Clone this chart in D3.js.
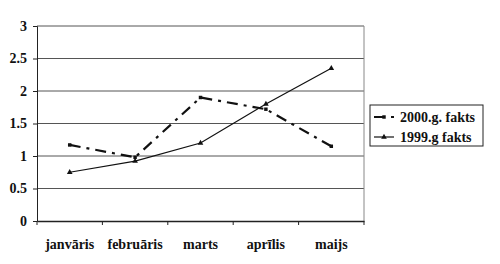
<!DOCTYPE html>
<html>
<head>
<meta charset="utf-8">
<script src="https://cdn.jsdelivr.net/npm/d3@7"></script>
<style>
  html, body { margin: 0; padding: 0; background: #fff; overflow: hidden; }
  svg { display: block; }
  svg text { font-family: "Liberation Serif", "Times New Roman", "DejaVu Serif", serif; font-weight: 700; fill: #111; }
</style>
</head>
<body>
<div id="chart"></div>
<script>
"use strict";

const months = ["janvāris", "februāris", "marts", "aprīlis", "maijs"];
const values2000 = [1.17, 0.98, 1.9, 1.72, 1.15];
const values1999 = [0.75, 0.92, 1.2, 1.8, 2.35];
const yTicks = [0, 0.5, 1, 1.5, 2, 2.5, 3];
const seriesNames = ["2000.g. fakts", "1999.g fakts"];

const width = 500;
const height = 264;
const margin = { top: 26, right: 136, bottom: 43, left: 37 };
const innerWidth = width - margin.left - margin.right;
const innerHeight = height - margin.top - margin.bottom;
const dashPattern = "11,6,3,6";

const svg = d3.select("#chart")
  .append("svg")
  .attr("width", width)
  .attr("height", height);

const g = svg.append("g").attr("transform", `translate(${margin.left},${margin.top})`);

const x = d3.scaleBand().domain(months).range([0, innerWidth]);
const y = d3.scaleLinear().domain([0, 3]).range([innerHeight, 0]);
const cx = (m) => x(m) + x.bandwidth() / 2;

// horizontal grid
g.selectAll("line.grid")
  .data(yTicks.filter((v) => v > 0))
  .join("line")
  .attr("x1", 0)
  .attr("x2", innerWidth)
  .attr("y1", (v) => y(v))
  .attr("y2", (v) => y(v))
  .attr("stroke", "#555")
  .attr("stroke-width", 1);

g.append("line")
  .attr("x1", innerWidth).attr("x2", innerWidth)
  .attr("y1", 0).attr("y2", innerHeight)
  .attr("stroke", "#888");

g.append("g")
  .call(d3.axisLeft(y).tickValues(yTicks).tickSize(4).tickPadding(6).tickFormat((v) => String(v)))
  .call((axis) => axis.attr("font-family", null).attr("font-size", null))
  .call((axis) => axis.selectAll("text").style("font-size", "14px"))
  .call((axis) => axis.selectAll("line").attr("stroke", "#222"))
  .call((axis) => axis.select(".domain").attr("stroke", "#222"));

g.append("g")
  .attr("transform", `translate(0,${innerHeight})`)
  .call(d3.axisBottom(x).tickSize(0).tickPadding(18))
  .call((axis) => axis.attr("font-family", null).attr("font-size", null))
  .call((axis) => axis.selectAll("text").style("font-size", "14px"))
  .call((axis) => axis.select(".domain").attr("stroke", "#222").attr("stroke-width", 1.5));

// category separators
g.selectAll("line.sep")
  .data(d3.range(months.length + 1))
  .join("line")
  .attr("x1", (i) => i * x.bandwidth())
  .attr("x2", (i) => i * x.bandwidth())
  .attr("y1", innerHeight)
  .attr("y2", innerHeight + 4)
  .attr("stroke", "#222");

const line = d3.line()
  .x((d, i) => cx(months[i]))
  .y((d) => y(d));

g.append("path")
  .datum(values1999)
  .attr("fill", "none")
  .attr("stroke", "#111")
  .attr("stroke-width", 1.2)
  .attr("d", line);

g.append("path")
  .datum(values2000)
  .attr("fill", "none")
  .attr("stroke", "#111")
  .attr("stroke-width", 2.2)
  .attr("stroke-dasharray", dashPattern)
  .attr("d", line);

const tri = d3.symbol().type(d3.symbolTriangle).size(14);
const sq = d3.symbol().type(d3.symbolSquare).size(12);

g.selectAll("path.p1999")
  .data(values1999)
  .join("path")
  .attr("transform", (d, i) => `translate(${cx(months[i])},${y(d)})`)
  .attr("d", tri)
  .attr("fill", "#111");

g.selectAll("path.p2000")
  .data(values2000)
  .join("path")
  .attr("transform", (d, i) => `translate(${cx(months[i])},${y(d)})`)
  .attr("d", sq)
  .attr("fill", "#111");

// legend
const legend = svg.append("g").attr("transform", "translate(370,105)");
legend.append("rect")
  .attr("width", 113)
  .attr("height", 41)
  .attr("fill", "#fff")
  .attr("stroke", "#222")
  .attr("stroke-width", 1);

const rows = legend.selectAll("g.row")
  .data(seriesNames)
  .join("g")
  .attr("transform", (d, i) => `translate(0,${12 + i * 20})`);

rows.append("line")
  .attr("x1", 4).attr("x2", 24)
  .attr("y1", 0).attr("y2", 0)
  .attr("stroke", "#111")
  .attr("stroke-width", (d, i) => (i === 0 ? 2.2 : 1.2))
  .attr("stroke-dasharray", (d, i) => (i === 0 ? dashPattern : null));

rows.append("path")
  .attr("transform", "translate(14,0)")
  .attr("d", (d, i) => (i === 0 ? sq() : tri()))
  .attr("fill", "#111");

rows.append("text")
  .attr("x", 30)
  .attr("y", 5)
  .style("font-size", "14px")
  .text((d) => d);
</script>
</body>
</html>
